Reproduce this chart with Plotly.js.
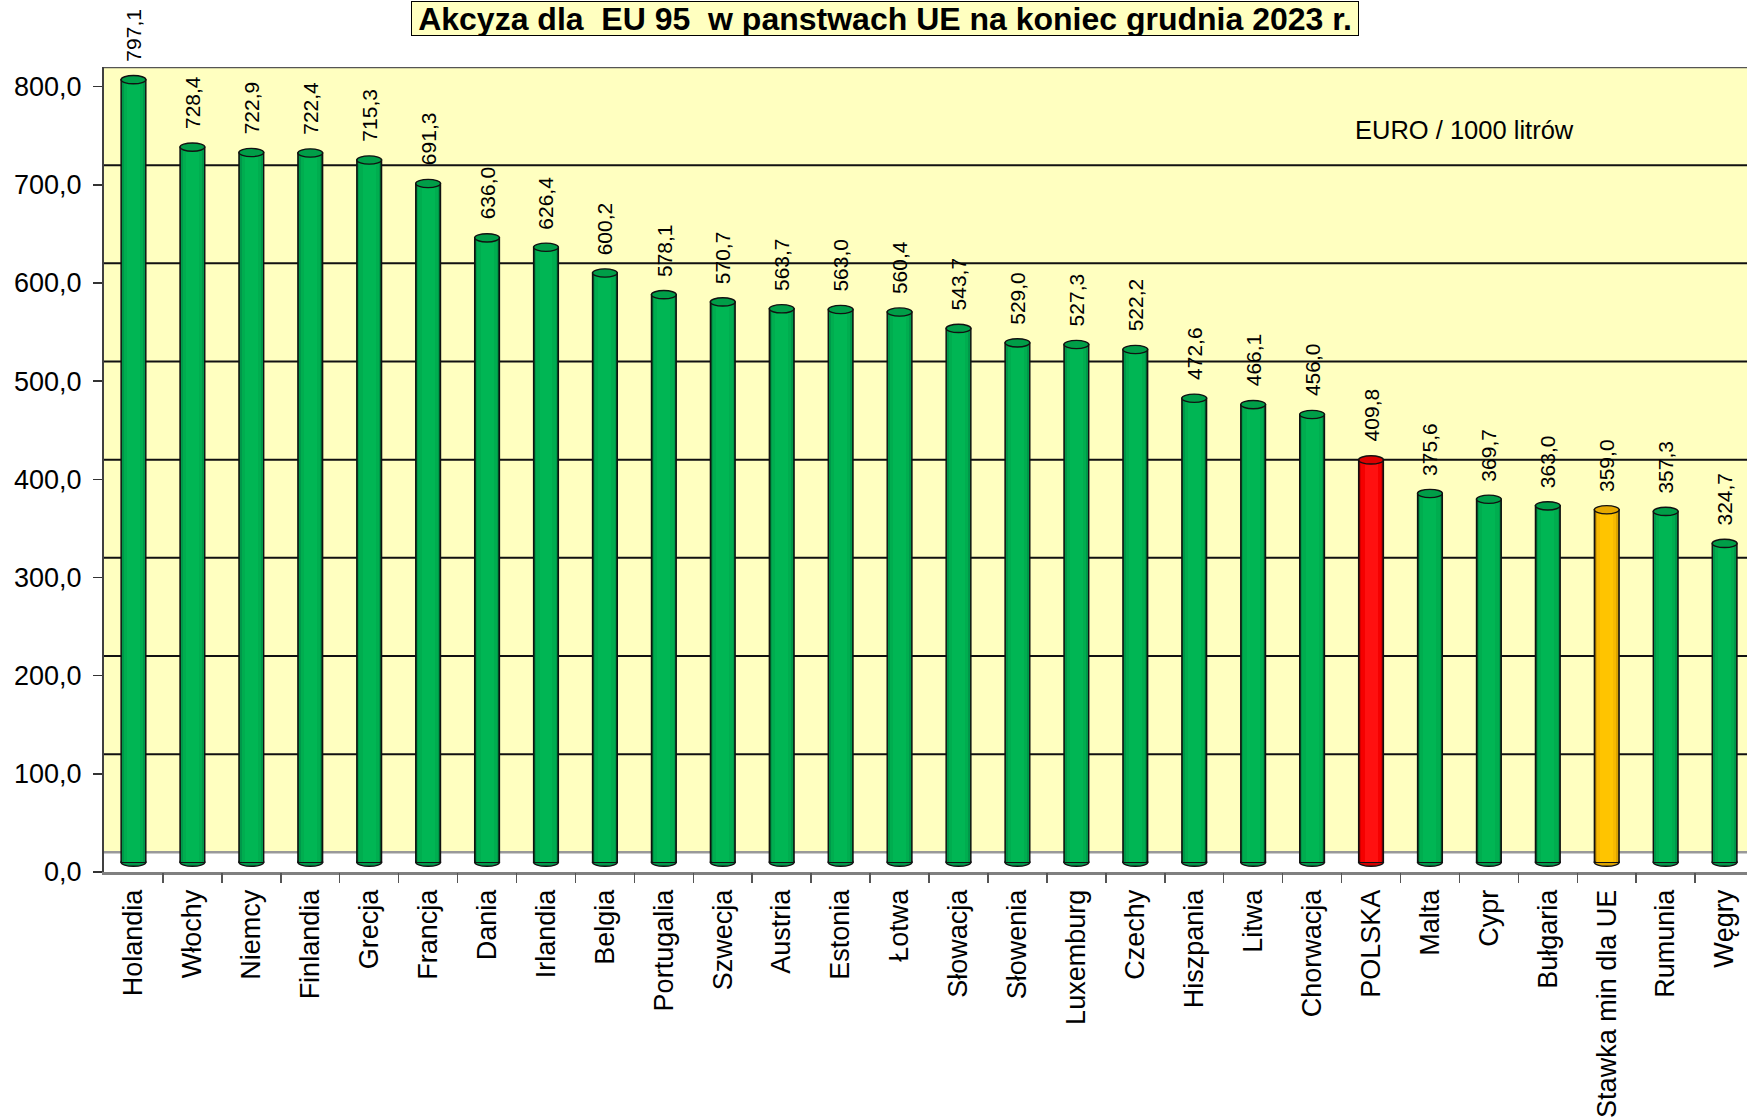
<!DOCTYPE html>
<html>
<head>
<meta charset="utf-8">
<script src="https://cdn.plot.ly/plotly-3.0.1.min.js"></script>
<style>
html,body{margin:0;padding:0;background:#ffffff;}
#chart{width:1747px;height:1118px;}
</style>
</head>
<body>
<div id="chart"></div>
<script>
// ---- data ----
const categories = ["Holandia","Włochy","Niemcy","Finlandia","Grecja","Francja","Dania","Irlandia","Belgia","Portugalia","Szwecja","Austria","Estonia","Łotwa","Słowacja","Słowenia","Luxemburg","Czechy","Hiszpania","Litwa","Chorwacja","POLSKA","Malta","Cypr","Bułgaria","Stawka min dla UE","Rumunia","Węgry"];
const values = [797.1,728.4,722.9,722.4,715.3,691.3,636.0,626.4,600.2,578.1,570.7,563.7,563.0,560.4,543.7,529.0,527.3,522.2,472.6,466.1,456.0,409.8,375.6,369.7,363.0,359.0,357.3,324.7];
const yTickValues = [0,100,200,300,400,500,600,700,800];
const titleText = "Akcyza dla \u00a0EU 95 \u00a0w panstwach UE na koniec grudnia 2023 r.";
const unitText = "EURO / 1000 litrów";
const highlightRed = "POLSKA";
const highlightOrange = "Stawka min dla UE";

// ---- style ----
const FONT = "Liberation Sans, Arial, Helvetica, sans-serif";
const DEPTH = 10;          // pseudo-3D offset (axis units)
const BACK_WALL = 20;      // back wall floor level (axis units)
const Y_MAX = 820;
const BAR_W = 0.42;
const LAYER_W = [0.42, 0.38, 0.33, 0.22];
const palettes = {
  green:  {layers: ['#005a28', '#00984a', '#00ad4f', '#00b654'], top: '#009e48'},
  red:    {layers: ['#800000', '#d40000', '#f50000', '#ff1010'], top: '#dd0000'},
  orange: {layers: ['#8a6000', '#dba300', '#f7b900', '#ffc400'], top: '#e6a800'}
};

function paletteFor(cat) {
  if (cat === highlightRed) return palettes.red;
  if (cat === highlightOrange) return palettes.orange;
  return palettes.green;
}
const barPalettes = categories.map(paletteFor);
const idx = categories.map((c, i) => i);

// cylinder body: overlaid bars of decreasing width for shading
const traces = LAYER_W.map((w, li) => ({
  type: 'bar',
  x: idx,
  y: values,
  base: DEPTH,
  width: w,
  marker: {
    color: barPalettes.map(p => p.layers[li]),
    line: {width: li === 0 ? 1.4 : 0, color: '#111111'}
  },
  hoverinfo: 'skip',
  showlegend: false
}));

// shapes: back wall, grid lines, cylinder ends
const shapes = [];
shapes.push({type: 'rect', xref: 'paper', yref: 'y', x0: 0, x1: 1, y0: BACK_WALL, y1: Y_MAX,
  fillcolor: '#ffffc0', line: {width: 0}, layer: 'below'});
yTickValues.filter(v => v > 0 && v < 800).forEach(v => {
  shapes.push({type: 'line', xref: 'paper', yref: 'y', x0: 0, x1: 1, y0: v + BACK_WALL, y1: v + BACK_WALL,
    line: {color: '#111111', width: 2}, layer: 'below'});
});
shapes.push({type: 'line', xref: 'paper', yref: 'y', x0: 0, x1: 1, y0: BACK_WALL, y1: BACK_WALL,
  line: {color: '#999999', width: 2.5}, layer: 'below'});
shapes.push({type: 'line', xref: 'paper', yref: 'y', x0: 0, x1: 1, y0: Y_MAX, y1: Y_MAX,
  line: {color: '#555555', width: 2.5}, layer: 'below'});
const EH = 4.2;
values.forEach((v, i) => {
  const p = barPalettes[i];
  // bottom rounded end
  shapes.push({type: 'circle', xref: 'x', yref: 'y', x0: i - BAR_W / 2, x1: i + BAR_W / 2,
    y0: DEPTH - EH, y1: DEPTH + EH, fillcolor: p.layers[1], line: {color: '#111111', width: 1.4}, layer: 'between'});
  // top ellipse
  shapes.push({type: 'circle', xref: 'x', yref: 'y', x0: i - BAR_W / 2, x1: i + BAR_W / 2,
    y0: v + DEPTH - EH, y1: v + DEPTH + EH, fillcolor: p.top, line: {color: '#111111', width: 1.4}, layer: 'above'});
});

// annotations: value labels, unit text, title
const annotations = values.map((v, i) => ({
  x: i, y: v + DEPTH, xref: 'x', yref: 'y',
  text: v.toFixed(1).replace('.', ','),
  textangle: -90, showarrow: false,
  xanchor: 'center', yanchor: 'bottom', yshift: 16,
  font: {family: FONT, size: 21, color: '#000000'}
}));
annotations.push({
  xref: 'paper', yref: 'paper', x: 0.828, y: 0.922, xanchor: 'center', yanchor: 'middle',
  text: unitText, showarrow: false, font: {family: FONT, size: 25.5, color: '#000000'}
});
annotations.push({
  xref: 'paper', yref: 'paper', x: 0.4752, y: 1.0384, xanchor: 'center', yanchor: 'bottom',
  text: '<b>' + titleText + '</b>', showarrow: false,
  width: 946, height: 33, valign: 'middle',
  bgcolor: '#ffffc0', bordercolor: '#000000', borderwidth: 1, borderpad: 0,
  font: {family: FONT, size: 32, color: '#000000'}
});

const layout = {
  width: 1747, height: 1118,
  margin: {l: 104, r: 0, t: 67, b: 246},
  paper_bgcolor: '#ffffff', plot_bgcolor: '#ffffff',
  barmode: 'overlay', bargap: 0,
  separators: ', ',
  showlegend: false, hovermode: false,
  font: {family: FONT, color: '#000000'},
  xaxis: {
    type: 'linear', range: [-0.5, 27.38],
    tickmode: 'array', tickvals: idx, ticktext: categories,
    tickangle: -90, tickfont: {family: FONT, size: 27, color: '#000000'},
    ticklabelstandoff: 4,
    showgrid: false, zeroline: false,
    showline: true, linecolor: '#808080', linewidth: 3,
    ticks: '', fixedrange: true
  },
  xaxis2: {
    overlaying: 'x', range: [-0.5, 27.38], tickmode: 'array',
    tickvals: idx.map(i => i + 0.5), ticktext: idx.map(() => ''),
    ticks: 'outside', ticklen: 10, tickcolor: '#555555', tickwidth: 1.5,
    showgrid: false, zeroline: false, showline: false, side: 'bottom', anchor: 'y'
  },
  yaxis: {
    range: [0, Y_MAX], tickmode: 'array', tickvals: yTickValues, tickformat: '.1f',
    tickfont: {family: FONT, size: 27, color: '#000000'},
    ticks: 'outside', ticklen: 9, tickcolor: '#333333', tickwidth: 1.5,
    ticklabelstandoff: 6,
    showgrid: false, zeroline: false,
    showline: true, linecolor: '#404040', linewidth: 2, fixedrange: true
  },
  shapes: shapes,
  annotations: annotations
};

// invisible trace to activate the tick axis for category boundaries
traces.push({type: 'scatter', x: [0], y: [0], xaxis: 'x2', yaxis: 'y', mode: 'markers',
  marker: {opacity: 0}, hoverinfo: 'skip', showlegend: false});

Plotly.newPlot('chart', traces, layout, {displayModeBar: false, staticPlot: true});
</script>
</body>
</html>
